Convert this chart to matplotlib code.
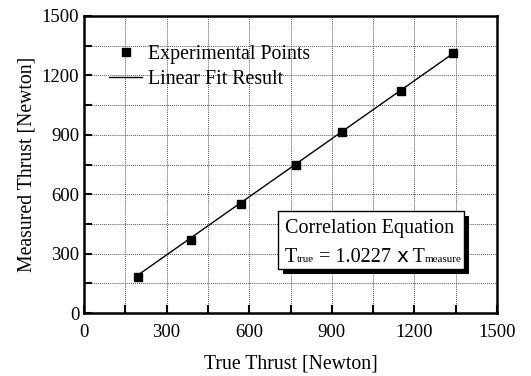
import matplotlib
matplotlib.use('agg')
import matplotlib.pyplot as plt
from matplotlib.ticker import MultipleLocator
import numpy as np

plt.rcParams['font.family'] = ['Liberation Serif', 'DejaVu Serif']

true_thrust = [197, 387, 569, 771, 938, 1150, 1341]
measured_thrust = [180, 369, 550, 749, 914, 1123, 1311]
slope = 1.0227

W, H = 531, 376
fig = plt.figure(figsize=(W / 100, H / 100), dpi=100)
ax = fig.add_axes([84 / W, 1 - 313 / H, 413 / W, 297 / H])

fit_x = np.array([true_thrust[0], true_thrust[-1]])
ax.plot(fit_x, fit_x / slope, color='black', lw=1.0, label='Linear Fit Result', zorder=3)
ax.plot(true_thrust, measured_thrust, 's', color='black', ms=6, label='Experimental Points', zorder=4)

ax.set_xlim(0, 1500)
ax.set_ylim(0, 1500)
ax.xaxis.set_major_locator(MultipleLocator(300))
ax.yaxis.set_major_locator(MultipleLocator(300))
ax.xaxis.set_minor_locator(MultipleLocator(150))
ax.yaxis.set_minor_locator(MultipleLocator(150))
ax.grid(True, which='both', ls=(0, (1, 1)), color='#555555', lw=0.7)
ax.tick_params(which='both', direction='in', top=False, right=False, labelsize=13.5, width=1.5)
ax.tick_params(which='major', length=6)
ax.tick_params(which='minor', length=6)
ax.tick_params(axis='x', pad=8)
for s in ax.spines.values():
    s.set_linewidth(1.8)

ax.set_xlabel('True Thrust [Newton]', fontsize=14.2, labelpad=10)
ax.set_ylabel('Measured Thrust [Newton]', fontsize=14.2, labelpad=4)

h, l = ax.get_legend_handles_labels()
ax.legend([h[1], h[0]], [l[1], l[0]], loc='upper left', bbox_to_anchor=(0.042, 0.93),
          frameon=False, fontsize=14.3, handlelength=1.66, handletextpad=0.3,
          borderaxespad=0, labelspacing=0.3)


def px(x0, y0, w, h):
    # pixel box (top-left origin) to figure fraction
    return (x0 / W, 1 - (y0 + h) / H, w / W, h / H)


sx, sy, sw, sh = px(283, 216, 186, 58)
ax.add_artist(plt.Rectangle((sx, sy), sw, sh, transform=fig.transFigure,
                            fc='black', ec='none', zorder=5))
bx, by, bw, bh = px(278, 211, 186, 58)
ax.add_artist(plt.Rectangle((bx, by), bw, bh, transform=fig.transFigure,
                            fc='white', ec='black', lw=1.0, zorder=6))

fig.text(285 / W, 1 - 229 / H, 'Correlation Equation', fontsize=14.5,
         ha='left', va='center', zorder=7)

# equation line built from pieces so the subscripts can be tiny
pieces = [('T', 14.5), ('true', 8), (' = 1.0227 ', 14.5), ('x', 14.5), (' T', 14.5), ('measure', 8)]
renderer = fig.canvas.get_renderer()
x = 285
base = 1 - 262 / H
for s, fs in pieces:
    fam = ['DejaVu Sans'] if s == 'x' else None
    t = fig.text(x / W, base, s, fontsize=fs, ha='left', va='baseline', zorder=7,
                 family=fam if fam else plt.rcParams['font.family'])
    x += t.get_window_extent(renderer).width

fig.savefig('out.png', dpi=100)
